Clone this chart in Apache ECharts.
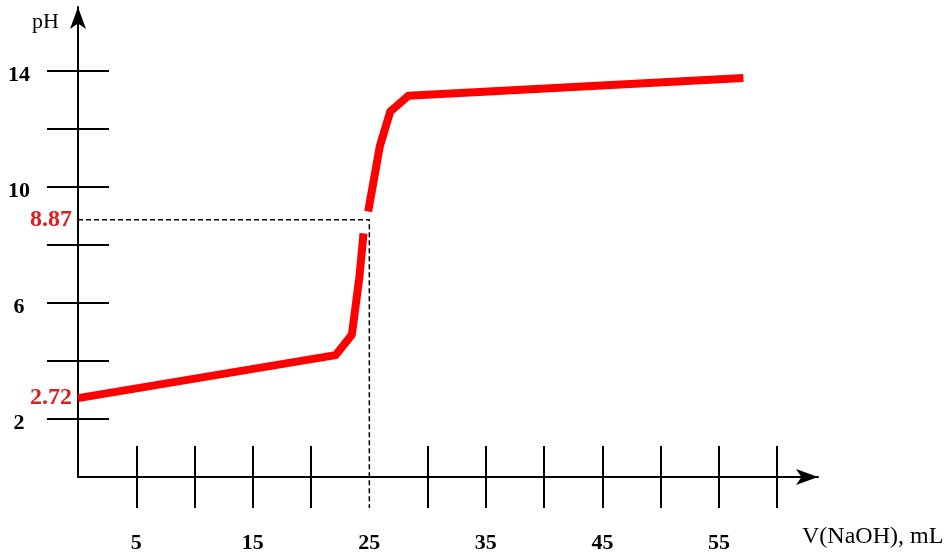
<!DOCTYPE html>
<html>
<head>
<meta charset="utf-8">
<script src="https://cdn.jsdelivr.net/npm/echarts@6/dist/echarts.min.js"></script>
<style>html,body{margin:0;padding:0;background:#fff}#c{width:950px;height:554px}</style>
</head>
<body>
<div id="c"></div>
<script>
// ---- data ----
const volume = [0, 22.1, 23.5, 24.15, 24.5, 24.7, 24.9, 25.9, 26.8, 28.35, 57.1];
const pH     = [2.72, 4.2, 4.9, 6.9, 8.4, null, 9.15, 11.4, 12.6, 13.14, 13.75];
const xTicks = [5, 10, 15, 20, 30, 35, 40, 45, 50, 55, 60];
const xLabels = [5, 15, 25, 35, 45, 55];
const yTicks = [2, 4, 6, 8, 10, 12, 14];
const yLabels = [2, 6, 10, 14];
const markedPH = [2.72, 8.87];
const equivVolume = 25;
const equivPH = 8.87;

const curve = volume.map((v, i) => [v, pH[i]]);
const guide = [[0, equivPH], [equivVolume, equivPH], [equivVolume, -1.07]];

const serif = 'Liberation Serif, Times New Roman, serif';
const XMAX = 63.5, YMAX = 16.2;

const chart = echarts.init(document.getElementById('c'), null, {renderer: 'canvas'});
chart.setOption({
  animation: false,
  backgroundColor: '#fff',
  grid: {left: 78, right: 132, top: 7, bottom: 77, containLabel: false, outerBoundsMode: 'none'},
  xAxis: [
    {
      type: 'value', position: 'bottom', min: 0, max: XMAX,
      axisLine: {show: true, onZero: false, symbol: ['none', 'arrow'], symbolSize: [12, 22],
                 lineStyle: {color: '#000', width: 2}},
      axisTick: {show: true, inside: false, length: 31, customValues: xTicks,
                 lineStyle: {color: '#000', width: 2}},
      axisLabel: {show: true, customValues: xLabels, margin: 55,
                  fontFamily: serif, fontSize: 22, fontWeight: 'bold', color: '#000'},
      splitLine: {show: false},
      name: 'V(NaOH), mL', nameLocation: 'end', nameGap: -16,
      nameTextStyle: {fontFamily: serif, fontSize: 24, color: '#000', align: 'left',
                      verticalAlign: 'top', padding: [48, 0, 0, 0]}
    },
    {
      type: 'value', position: 'bottom', min: 0, max: XMAX,
      axisLine: {show: false},
      axisTick: {show: true, inside: true, length: 31, customValues: xTicks,
                 lineStyle: {color: '#000', width: 2}},
      axisLabel: {show: false},
      splitLine: {show: false}
    }
  ],
  yAxis: [
    {
      type: 'value', position: 'left', min: 0, max: YMAX,
      axisLine: {show: true, onZero: false, symbol: ['none', 'arrow'], symbolSize: [12, 22],
                 lineStyle: {color: '#000', width: 2}},
      axisTick: {show: true, inside: false, length: 31, customValues: yTicks,
                 lineStyle: {color: '#000', width: 2}},
      axisLabel: {show: true, customValues: yLabels, align: 'center', margin: 59,
                  formatter: v => '{n|' + v + '}',
                  rich: {n: {fontFamily: serif, fontSize: 22, fontWeight: 'bold', color: '#000',
                             padding: [8, 0, 0, 0]}},
                  fontFamily: serif, fontSize: 22, fontWeight: 'bold', color: '#000'},
      splitLine: {show: false},
      name: 'pH', nameLocation: 'end', nameGap: -15,
      nameTextStyle: {fontFamily: serif, fontSize: 22, color: '#000', align: 'right',
                      verticalAlign: 'middle', padding: [0, 19, 0, 0]}
    },
    {
      type: 'value', position: 'left', min: 0, max: YMAX,
      axisLine: {show: false},
      axisTick: {show: true, inside: true, length: 31, customValues: yTicks,
                 lineStyle: {color: '#000', width: 2}},
      axisLabel: {show: true, customValues: markedPH, align: 'right', margin: 6,
                  formatter: v => v.toFixed(2),
                  fontFamily: serif, fontSize: 24, fontWeight: 'bold', color: '#dd1f1f'},
      splitLine: {show: false}
    }
  ],
  series: [
    {
      type: 'line', xAxisIndex: 0, yAxisIndex: 0, data: curve,
      showSymbol: false, symbol: 'none', connectNulls: false,
      lineStyle: {color: '#ff0000', width: 8, cap: 'butt', join: 'round'},
      z: 2
    },
    {
      type: 'line', xAxisIndex: 0, yAxisIndex: 0, data: guide,
      showSymbol: false, symbol: 'none', clip: false,
      lineStyle: {color: '#000', width: 1.5, type: [5, 3]},
      z: 3
    }
  ]
});
</script>
</body>
</html>
